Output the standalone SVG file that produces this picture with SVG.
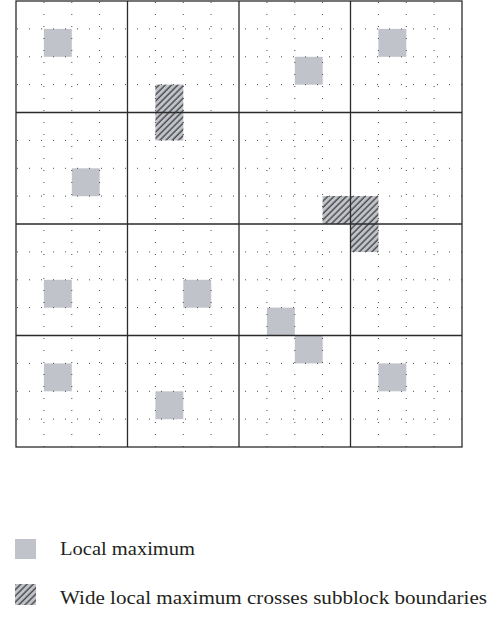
<svg xmlns="http://www.w3.org/2000/svg" width="494" height="621" viewBox="0 0 494 621">
<style>
.max{fill:#c1c3ca}
.hat{fill:url(#hatch)}
.dv{stroke:#4a4a4a;stroke-width:1;stroke-dasharray:1 11}
.blk{stroke:#2b2b2b;stroke-width:1.3;fill:none}
.lbl{font-family:"Liberation Serif","Times New Roman",serif;font-size:18.5px;fill:#231f20}
</style>
<defs>
<pattern id="hatch" width="4.4" height="4.4" patternUnits="userSpaceOnUse" patternTransform="rotate(45)">
<rect width="4.4" height="4.4" fill="#c1c3ca"/>
<line x1="1" y1="0" x2="1" y2="4.4" stroke="#333" stroke-width="1.2"/>
</pattern>
</defs>
<rect width="494" height="621" fill="#fff"/>
<g id="maxima">
<g id="m1"><rect class="max" x="43.9" y="28.9" width="27.9" height="27.9"/></g>
<g id="m2"><rect class="hat" x="155.4" y="84.6" width="27.9" height="55.8"/></g>
<g id="m3"><rect class="max" x="294.8" y="56.8" width="27.9" height="27.9"/></g>
<g id="m4"><rect class="max" x="378.4" y="28.9" width="27.9" height="27.9"/></g>
<g id="m5"><rect class="max" x="71.8" y="168.3" width="27.9" height="27.9"/></g>
<g id="m6"><path class="hat" d="M322.6 196.1H378.4V251.9H350.5V224H322.6Z"/></g>
<g id="m7"><rect class="max" x="43.9" y="279.8" width="27.9" height="27.9"/></g>
<g id="m8"><rect class="max" x="183.3" y="279.8" width="27.9" height="27.9"/></g>
<g id="m9"><rect class="max" x="266.9" y="307.6" width="27.9" height="27.9"/></g>
<g id="m10"><rect class="max" x="294.8" y="335.5" width="27.9" height="27.9"/></g>
<g id="m11"><rect class="max" x="43.9" y="363.4" width="27.9" height="27.9"/></g>
<g id="m12"><rect class="max" x="155.4" y="391.3" width="27.9" height="27.9"/></g>
<g id="m13"><rect class="max" x="378.4" y="363.4" width="27.9" height="27.9"/></g>
</g>
<g id="dots">
<path class="dv" d="M43.9 2V447M71.8 2V447M99.6 2V447M155.4 2V447M183.3 2V447M211.1 2V447M266.9 2V447M294.8 2V447M322.6 2V447M378.4 2V447M406.3 2V447M434.1 2V447"/>
<path class="dv" d="M17 28.9H462M17 56.8H462M17 84.6H462M17 140.4H462M17 168.3H462M17 196.1H462M17 251.9H462M17 279.8H462M17 307.6H462M17 363.4H462M17 391.3H462M17 419.1H462"/>
</g>
<g id="blocks">
<rect class="blk" x="16" y="1" width="446" height="446"/>
<path class="blk" d="M127.5 1V447M239 1V447M350.5 1V447M16 112.5H462M16 224H462M16 335.5H462"/>
</g>
<g id="legend">
<g id="leg1"><rect class="max" x="15" y="539" width="21" height="20"/><text class="lbl" x="60" y="555" textLength="135" lengthAdjust="spacingAndGlyphs">Local maximum</text></g>
<g id="leg2"><rect class="hat" x="15" y="584" width="21" height="21"/><text class="lbl" x="60" y="604" textLength="427" lengthAdjust="spacingAndGlyphs">Wide local maximum crosses subblock boundaries</text></g>
</g>
</svg>
